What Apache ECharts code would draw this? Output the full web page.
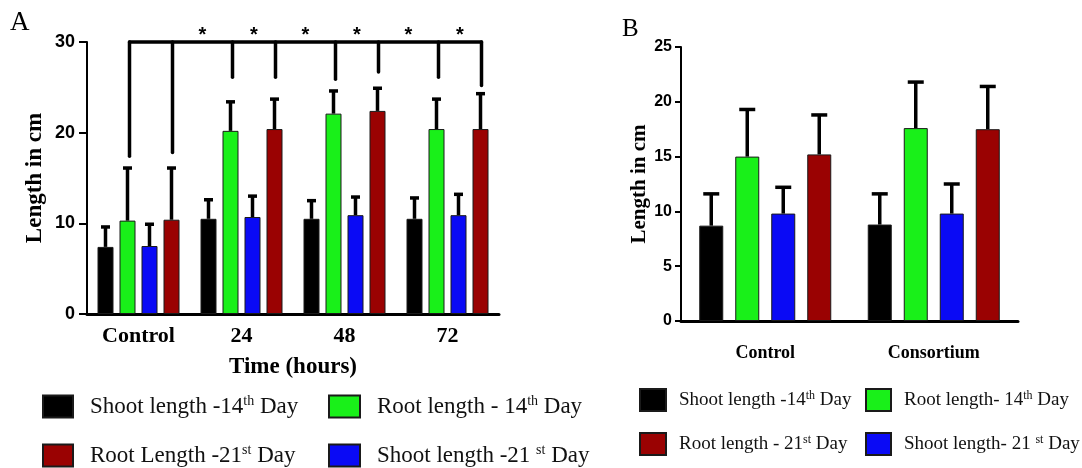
<!DOCTYPE html>
<html><head><meta charset="utf-8">
<script src="https://cdn.jsdelivr.net/npm/echarts@6/dist/echarts.min.js"></script>
<style>html,body{margin:0;padding:0;background:#fff}#c{width:1082px;height:468px}</style>
</head><body><div id="c"></div>
<script>
// ---------- Panel A data ----------
const catsA = ['Control', '24', '48', '72'];
const shoot14A = [7.4, 10.5, 10.5, 10.5];
const shoot14ErrA = [9.6, 12.6, 12.5, 12.8];
const root14A = [10.3, 20.2, 22.1, 20.4];
const root14ErrA = [16.1, 23.4, 24.6, 23.7];
const shoot21A = [7.5, 10.7, 10.9, 10.9];
const shoot21ErrA = [9.9, 13.0, 12.9, 13.2];
const root21A = [10.4, 20.4, 22.4, 20.4];
const root21ErrA = [16.1, 23.7, 24.9, 24.3];
const dropRoot14A = [17.4, 26.1, 25.9, 26.1];
const dropRoot21A = [17.8, 26.1, 26.7, 25.2];
const bracketTopA = 30;
const starLevelA = 30.7;
const yMinA = 0, yMaxA = 30, yStepA = 10;

// ---------- Panel B data ----------
const catsB = ['Control', 'Consortium'];
const shoot14B = [8.7, 8.8];
const shoot14ErrB = [11.6, 11.6];
const root14B = [15.0, 17.6];
const root14ErrB = [19.3, 21.8];
const shoot21B = [9.8, 9.8];
const shoot21ErrB = [12.2, 12.5];
const root21B = [15.2, 17.5];
const root21ErrB = [18.8, 21.4];
const yMinB = 0, yMaxB = 25, yStepB = 5;

// ---------- legend texts ----------
const legendText = {
  A_s14: 'Shoot length -14{sup|th} Day',
  A_r14: 'Root length - 14{sup|th} Day',
  A_r21: 'Root Length -21{sup|st} Day',
  A_s21: 'Shoot length -21 {sup|st} Day',
  B_s14: 'Shoot length -14{sup|th} Day',
  B_r14: 'Root length- 14{sup|th} Day',
  B_r21: 'Root length - 21{sup|st} Day',
  B_s21: 'Shoot length- 21 {sup|st} Day'
};

const COL = {black: '#000000', green: '#19f019', blue: '#0a0af5', red: '#9a0202'};
const SERIF = 'Liberation Serif', SANS = 'Liberation Sans';

const A = {w: 16, g: 6, cap: 9, lw: 3.5};
const B = {w: 24, g: 12, cap: 16, lw: 3.5};

function offsetOf(k, L) { return -(4 * L.w + 3 * L.g) / 2 + L.w / 2 + k * (L.w + L.g); }

function errRender(k, L) {
  return function (params, api) {
    const c = api.value(0);
    const top = api.coord([c, api.value(2)]);
    const base = api.coord([c, api.value(1)]);
    const x = top[0] + offsetOf(k, L);
    const st = {stroke: '#000', lineWidth: L.lw};
    return {type: 'group', children: [
      {type: 'line', shape: {x1: x, y1: base[1], x2: x, y2: top[1]}, style: st},
      {type: 'line', shape: {x1: x - L.cap / 2, y1: top[1], x2: x + L.cap / 2, y2: top[1]}, style: st}
    ]};
  };
}

function bar(name, data, color, L, xi) {
  return {name, type: 'bar', data, xAxisIndex: xi, yAxisIndex: xi, barWidth: L.w,
    barGap: (L.g / L.w * 100) + '%', itemStyle: {color, borderColor: '#1a1a1a', borderWidth: 1}, z: 2};
}
function err(vals, errs, k, L, xi) {
  return {type: 'custom', xAxisIndex: xi, yAxisIndex: xi, silent: true, z: 3,
    data: vals.map((v, i) => [i, v, errs[i]]), renderItem: errRender(k, L)};
}

function bracketRender(params, api) {
  const i = api.value(0);
  const lw = 3.5;
  const st = {stroke: '#000', lineWidth: lw, lineCap: 'round'};
  const topY = api.coord([i, bracketTopA])[1];
  const cx = api.coord([i, 0])[0];
  const gx = cx + offsetOf(1, A) + 2, rx = cx + offsetOf(3, A) + 1;
  const gy = api.coord([i, api.value(1)])[1], ry = api.coord([i, api.value(2)])[1];
  const ch = [
    {type: 'line', shape: {x1: gx, y1: topY, x2: gx, y2: gy}, style: st},
    {type: 'line', shape: {x1: rx, y1: topY, x2: rx, y2: ry}, style: st}
  ];
  const sy = api.coord([i, starLevelA])[1];
  const starStyle = (x) => ({type: 'text', style: {text: '*', x, y: sy, align: 'center', verticalAlign: 'middle',
    font: 'bold 20px "Liberation Sans"', fill: '#000'}});
  if (i === 0) {
    const lastX = api.coord([catsA.length - 1, 0])[0] + offsetOf(3, A) + 1;
    ch.push({type: 'line', shape: {x1: gx, y1: topY, x2: lastX, y2: topY}, style: st});
  } else {
    const prevR = api.coord([i - 1, 0])[0] + offsetOf(3, A) + 1;
    ch.push(starStyle((prevR + gx) / 2));
    ch.push(starStyle((gx + rx) / 2));
  }
  return {type: 'group', children: ch};
}

function lg(name, left, top, w, h, fs, gap) {
  return {left, top, padding: 0, itemWidth: w, itemHeight: h, selectedMode: false,
    data: [{name, icon: 'rect'}],
    formatter: (n) => '{g| }' + legendText[n],
    textStyle: {fontFamily: SERIF, fontSize: fs, color: '#111', lineHeight: fs + 2,
      rich: {g: {width: gap, fontSize: fs}, sup: {fontFamily: SERIF, fontSize: Math.round(fs * 0.62), color: '#111', verticalAlign: 'top', lineHeight: fs + 2}}}};
}

function yAx(gi, min, max, step, fs, margin, tick, nameSize, nameGap) {
  return {type: 'value', gridIndex: gi, min, max, interval: step,
    axisLine: {show: true, lineStyle: {color: '#000', width: 2}},
    axisTick: {show: true, length: tick, lineStyle: {color: '#000', width: 2}},
    axisLabel: {fontFamily: SANS, fontWeight: 'bold', fontSize: fs, color: '#000', margin},
    splitLine: {show: false},
    name: 'Length in cm', nameLocation: 'middle', nameGap, nameRotate: 90,
    nameTextStyle: {fontFamily: SERIF, fontWeight: 'bold', fontSize: nameSize, color: '#000'}};
}

const option = {
  animation: false,
  backgroundColor: '#fff',
  title: [
    {text: 'A', left: 10, top: 9, padding: 0, textStyle: {fontFamily: SERIF, fontWeight: 'normal', fontSize: 27, color: '#000'}},
    {text: 'B', left: 622, top: 17, padding: 0, textStyle: {fontFamily: SERIF, fontWeight: 'normal', fontSize: 25, color: '#000'}}
  ],
  grid: [
    {left: 87, top: 42, width: 412, height: 272, outerBoundsMode: 'none'},
    {left: 681, top: 47, width: 337, height: 274, outerBoundsMode: 'none'}
  ],
  xAxis: [
    {type: 'category', gridIndex: 0, data: catsA,
      axisLine: {lineStyle: {color: '#000', width: 3}},
      axisTick: {alignWithLabel: true, length: 8, lineStyle: {color: '#000', width: 2.5}},
      axisLabel: {fontFamily: SERIF, fontWeight: 'bold', fontSize: 22, color: '#000', margin: 11},
      name: 'Time (hours)', nameLocation: 'middle', nameGap: 42,
      nameTextStyle: {fontFamily: SERIF, fontWeight: 'bold', fontSize: 23, color: '#000'}},
    {type: 'category', gridIndex: 1, data: catsB,
      axisLine: {lineStyle: {color: '#000', width: 3}},
      axisTick: {alignWithLabel: true, length: 7, lineStyle: {color: '#000', width: 2.5}},
      axisLabel: {fontFamily: SERIF, fontWeight: 'bold', fontSize: 18, color: '#000', margin: 23}}
  ],
  yAxis: [
    yAx(0, yMinA, yMaxA, yStepA, 18, 12, 8, 23, 40),
    yAx(1, yMinB, yMaxB, yStepB, 16, 9, 6, 21, 31)
  ],
  legend: [
    lg('A_s14', 42, 394, 30, 22, 23, 12),
    lg('A_r14', 328, 394, 31, 22, 23, 12),
    lg('A_r21', 42, 443, 30, 22, 23, 12),
    lg('A_s21', 328, 443, 31, 22, 23, 12),
    lg('B_s14', 639, 388, 26, 22, 19, 8),
    lg('B_r14', 865, 388, 25, 22, 19, 8),
    lg('B_r21', 639, 432, 26, 22, 19, 8),
    lg('B_s21', 865, 432, 25, 22, 19, 8)
  ],
  series: [
    bar('A_s14', shoot14A, COL.black, A, 0),
    bar('A_r14', root14A, COL.green, A, 0),
    bar('A_s21', shoot21A, COL.blue, A, 0),
    bar('A_r21', root21A, COL.red, A, 0),
    err(shoot14A, shoot14ErrA, 0, A, 0),
    err(root14A, root14ErrA, 1, A, 0),
    err(shoot21A, shoot21ErrA, 2, A, 0),
    err(root21A, root21ErrA, 3, A, 0),
    {type: 'custom', xAxisIndex: 0, yAxisIndex: 0, silent: true, clip: false, z: 4,
      data: catsA.map((c, i) => [i, dropRoot14A[i], dropRoot21A[i]]), renderItem: bracketRender},
    bar('B_s14', shoot14B, COL.black, B, 1),
    bar('B_r14', root14B, COL.green, B, 1),
    bar('B_s21', shoot21B, COL.blue, B, 1),
    bar('B_r21', root21B, COL.red, B, 1),
    err(shoot14B, shoot14ErrB, 0, B, 1),
    err(root14B, root14ErrB, 1, B, 1),
    err(shoot21B, shoot21ErrB, 2, B, 1),
    err(root21B, root21ErrB, 3, B, 1)
  ]
};
const chart = echarts.init(document.getElementById('c'), null, {renderer: 'canvas'});
chart.setOption(option);
</script>
</body></html>
